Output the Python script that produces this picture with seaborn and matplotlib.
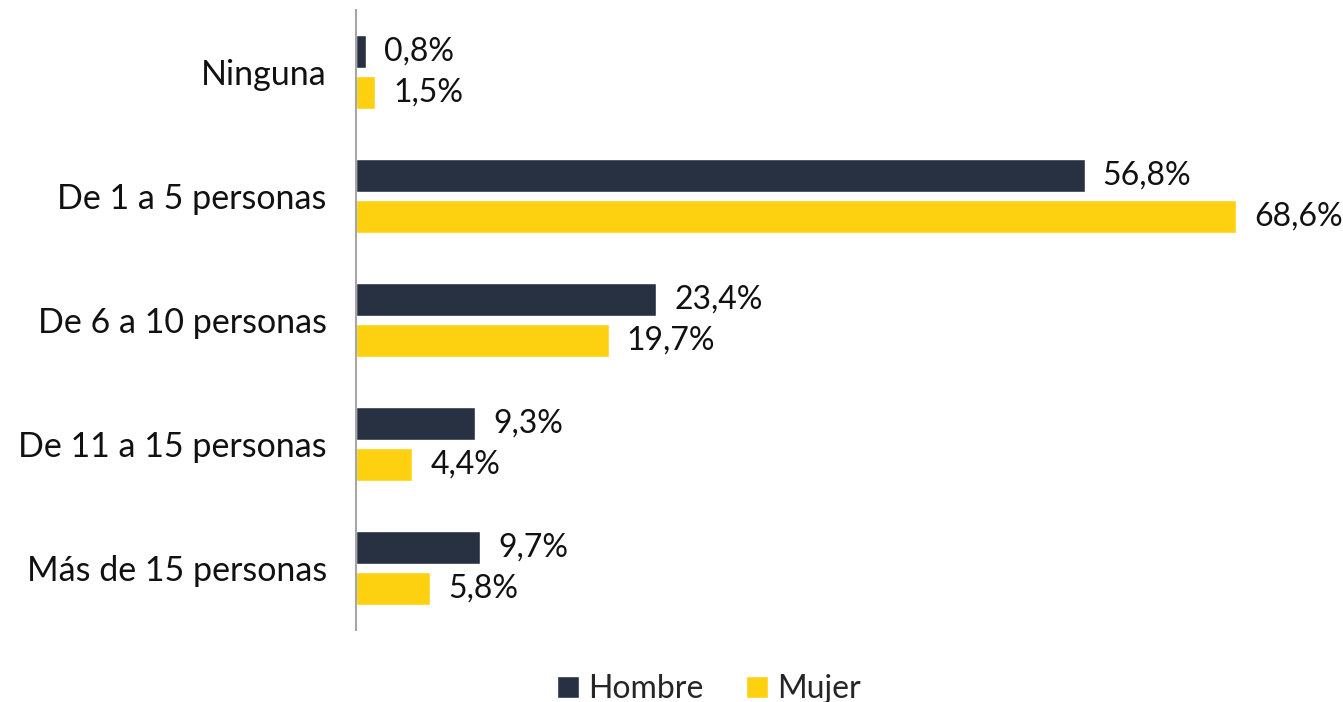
import pandas as pd
import seaborn as sns
import matplotlib.pyplot as plt

categorias = ["Ninguna", "De 1 a 5 personas", "De 6 a 10 personas",
              "De 11 a 15 personas", "Más de 15 personas"]
hombre = [0.8, 56.8, 23.4, 9.3, 9.7]
mujer = [1.5, 68.6, 19.7, 4.4, 5.8]
grupos = ["Hombre", "Mujer"]
colores = {"Hombre": "#283142", "Mujer": "#FDD10F"}

df = pd.DataFrame({
    "Categoria": categorias * 2,
    "Valor": hombre + mujer,
    "Sexo": ["Hombre"] * len(categorias) + ["Mujer"] * len(categorias),
})

sns.set_theme(style="white")
plt.rcParams["font.family"] = ["Lato", "DejaVu Sans"]

fig = plt.figure(figsize=(13.43, 7.02), dpi=100)
ax = fig.add_axes([356 / 1343, 72 / 702, (1331 - 356) / 1343, 620 / 702])

sns.barplot(data=df, y="Categoria", x="Valor", hue="Sexo", order=categorias,
            hue_order=grupos, palette=colores, orient="h", width=0.66, gap=0.21,
            saturation=1, ax=ax, legend=True)

for cont in ax.containers:
    ax.bar_label(cont, labels=[f"{v:.1f}%".replace(".", ",") for v in cont.datavalues],
                 padding=13, fontsize=23, color="#111111")

ax.set_xlim(0, 76)
ax.set_ylim(4.5, -0.5)
ax.set_xlabel("")
ax.set_ylabel("")
ax.set_xticks([])
ax.tick_params(axis="y", length=0, pad=21, labelsize=24.5, labelcolor="#111111")
for s in ["top", "right", "bottom"]:
    ax.spines[s].set_visible(False)
ax.spines["left"].set_color("#A6A6A6")
ax.spines["left"].set_linewidth(1.5)

ax.legend(loc="lower center", bbox_to_anchor=(0.362, -0.14), ncol=2,
          frameon=False, fontsize=23, handlelength=0.7, handleheight=0.7,
          handletextpad=0.3, columnspacing=1.3, borderaxespad=0)

fig.savefig("out.png", dpi=100)
